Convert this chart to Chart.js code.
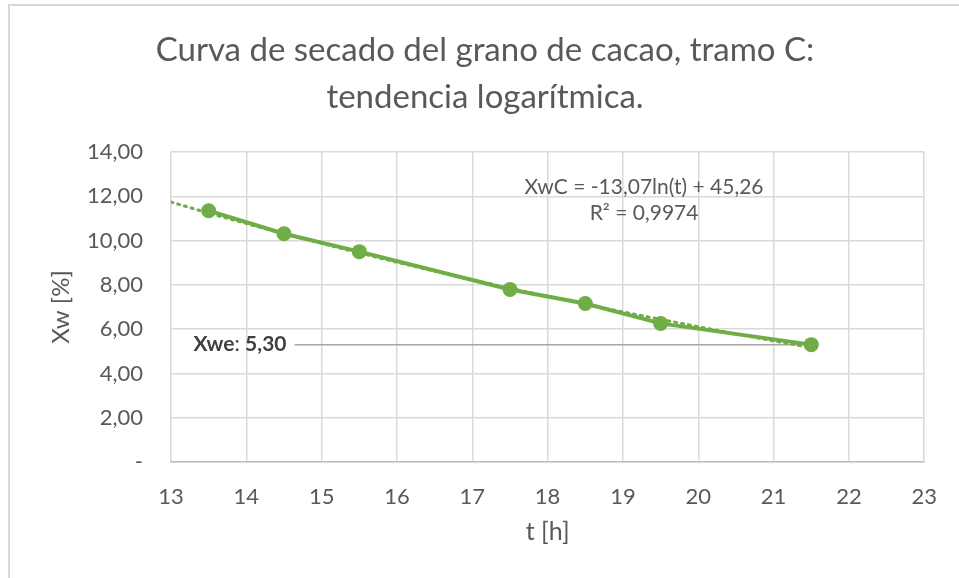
<!DOCTYPE html>
<html>
<head>
<meta charset="utf-8">
<script src="https://cdn.jsdelivr.net/npm/chart.js@4.4.1/dist/chart.umd.min.js"></script>
<style>
  html, body { margin: 0; padding: 0; background: #fff; }
  #wrap { width: 959px; height: 578px; position: relative; }
</style>
</head>
<body>
<div id="wrap"><canvas id="myChart" width="959" height="578"></canvas></div>
<script>
// datos
var horas = [13.5, 14.5, 15.5, 17.5, 18.5, 19.5, 21.5];
var xw = [11.35, 10.31, 9.50, 7.79, 7.16, 6.26, 5.30];

// linea de tendencia (punteada)
var tendT = [13, 13.5, 14, 14.5, 15, 15.5, 16, 16.5, 17, 17.5, 18, 18.5, 19, 19.5, 20, 20.5, 21, 21.6];
var tendXw = [11.74, 11.24, 10.77, 10.31, 9.87, 9.44, 9.02, 8.62, 8.23, 7.85, 7.48, 7.12, 6.78, 6.44, 6.11, 5.78, 5.47, 5.10];

// linea de humedad de equilibrio
var xweT = [14.64, 21.5];
var xweVal = [5.30, 5.30];

var titulo = ["Curva de secado del grano de cacao, tramo C:", "tendencia logarítmica."];
var ecuacion = ["XwC = -13,07ln(t) + 45,26", "R² = 0,9974"];

var verde = "#70AD47";
var gris = "#595959";
var fuente = "Lato, 'Open Sans', sans-serif";

function pares(xs, ys) {
    var out = [];
    for (var i = 0; i < xs.length; i++) out.push({ x: xs[i], y: ys[i] });
    return out;
}

var extras = {
    id: "extras",
    beforeDraw: function(chart) {
        var ctx = chart.ctx;
        ctx.save();
        ctx.fillStyle = "#fff";
        ctx.fillRect(0, 0, chart.width, chart.height);
        ctx.strokeStyle = "#D9D9D9";
        ctx.lineWidth = 2;
        ctx.beginPath();
        ctx.moveTo(9, chart.height);
        ctx.lineTo(9, 5);
        ctx.lineTo(chart.width, 5);
        ctx.stroke();
        ctx.restore();
    },
    afterDraw: function(chart) {
        var ctx = chart.ctx;
        ctx.save();
        ctx.fillStyle = gris;
        ctx.font = "33px " + fuente;
        ctx.textAlign = "center";
        ctx.textBaseline = "alphabetic";
        ctx.fillText(titulo[0], 485, 61);
        ctx.fillText(titulo[1], 485, 108);
        ctx.restore();
    },
    afterDatasetsDraw: function(chart) {
        var ctx = chart.ctx;
        var sx = chart.scales.x, sy = chart.scales.y;
        ctx.save();
        // ecuacion
        ctx.fillStyle = gris;
        ctx.font = "21px " + fuente;
        ctx.textAlign = "center";
        ctx.textBaseline = "middle";
        var ex = sx.getPixelForValue(19.28);
        ctx.fillText(ecuacion[0], ex, sy.getPixelForValue(12.43));
        ctx.fillText(ecuacion[1], ex, sy.getPixelForValue(11.22));
        // etiqueta Xwe
        var partes = [["Xwe", "bold"], [": ", "normal"], ["5,30", "bold"]];
        var fin = sx.getPixelForValue(xweT[0]) - 8;
        var yy = sy.getPixelForValue(xweVal[0]);
        var ancho = 0;
        partes.forEach(function(p) {
            ctx.font = p[1] + " 21px " + fuente;
            ancho += ctx.measureText(p[0]).width;
        });
        var x0 = fin - ancho;
        ctx.textAlign = "left";
        ctx.fillStyle = "#404040";
        partes.forEach(function(p) {
            ctx.font = p[1] + " 21px " + fuente;
            ctx.fillText(p[0], x0, yy);
            x0 += ctx.measureText(p[0]).width;
        });
        ctx.restore();
    }
};

new Chart("myChart", {
    type: "scatter",
    data: {
        datasets: [{
            label: "Xwe",
            data: pares(xweT, xweVal),
            showLine: true,
            borderColor: "#A6A6A6",
            borderWidth: 1.5,
            pointRadius: 0,
            order: 3
        }, {
            label: "Tendencia",
            data: pares(tendT, tendXw),
            showLine: true,
            borderColor: verde,
            borderWidth: 3,
            borderDash: [2, 5],
            borderCapStyle: "round",
            pointRadius: 0,
            order: 2
        }, {
            label: "XwC",
            data: pares(horas, xw),
            showLine: true,
            borderColor: verde,
            backgroundColor: verde,
            borderWidth: 4,
            pointRadius: 7.5,
            pointBorderWidth: 0,
            order: 1
        }]
    },
    options: {
        responsive: false,
        animation: false,
        layout: { padding: { left: 0, right: 31, top: 0, bottom: 28 } },
        plugins: {
            legend: { display: false },
            tooltip: { enabled: false },
            title: {
                // solo reserva el espacio; el texto se dibuja en el plugin
                display: true,
                text: titulo,
                color: "rgba(0,0,0,0)",
                font: { family: fuente, size: 30, weight: "normal", lineHeight: 1.55 },
                padding: { top: 27, bottom: 32 }
            }
        },
        scales: {
            x: {
                type: "linear",
                min: 13,
                max: 23,
                ticks: {
                    stepSize: 1,
                    color: gris,
                    padding: 22,
                    font: { family: fuente, size: 22 }
                },
                grid: { color: "#D9D9D9", drawTicks: false, lineWidth: 1.5 },
                border: { color: "#BFBFBF", width: 1.5 },
                title: {
                    display: true,
                    text: "t [h]",
                    color: gris,
                    font: { family: fuente, size: 25 },
                    padding: { top: 0, bottom: 3 }
                },
                afterFit: function(scale) { scale.height = 88; }
            },
            y: {
                min: 0,
                max: 14,
                ticks: {
                    stepSize: 2,
                    color: gris,
                    padding: 28,
                    font: { family: fuente, size: 22 },
                    callback: function(v) {
                        if (v === 0) return "-";
                        return v.toFixed(2).replace(".", ",");
                    }
                },
                grid: { color: "#D9D9D9", drawTicks: false, lineWidth: 1.5 },
                border: { display: false },
                title: {
                    display: true,
                    text: "Xw [%]",
                    color: gris,
                    font: { family: fuente, size: 24 },
                    padding: { top: 47, bottom: 0 }
                },
                afterFit: function(scale) { scale.width = 171; }
            }
        }
    },
    plugins: [extras]
});
</script>
</body>
</html>
